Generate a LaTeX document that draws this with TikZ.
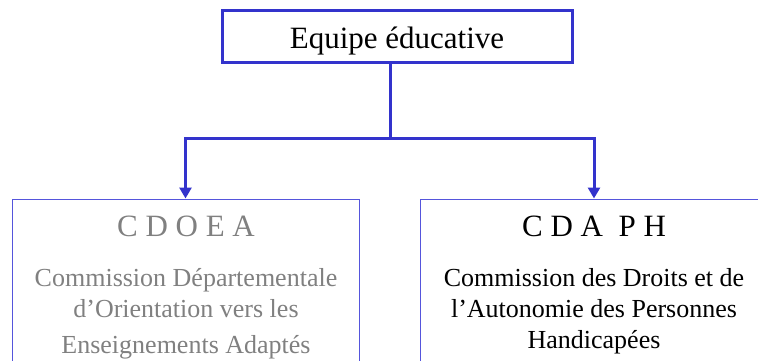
\documentclass[tikz,border=0pt]{standalone}
\usepackage{fontspec}
\setmainfont{Liberation Serif}
\usetikzlibrary{arrows.meta}
\definecolor{linkblue}{RGB}{51,51,204}
\definecolor{boxblue}{RGB}{85,85,220}
\definecolor{textgray}{RGB}{128,128,128}
\tikzset{
        link/.style={line width=3pt,color=linkblue},
        linkarrow/.style={link,-{Triangle[length=11pt,width=12pt]}},
        topbox/.style={draw=linkblue,line width=3pt,minimum width=350pt,minimum height=52pt,
                inner sep=0pt,text height=30pt,text depth=6pt,font=\fontsize{31}{37}\selectfont},
        orgbox/.style={draw=boxblue,line width=1pt,minimum height=181pt,inner sep=0pt},
        headtext/.style={anchor=base,font=\fontsize{31}{37}\selectfont},
        bodytext/.style={anchor=base,align=center,font=\fontsize{26}{31}\selectfont}
    }

\begin{document}
\begin{tikzpicture}[x=1pt,y=1pt]
\useasboundingbox (0,0) rectangle (758,360);
\clip (0,0) rectangle (758,360);
\node(EQ)[topbox] at (397,324){Equipe éducative};
\node(CDOEA)[orgbox,minimum width=347pt] at (185.5,70.5){};
\node(CDAPH)[orgbox,minimum width=348pt] at (594,70.5){};
% texts of the two commissions
\node(CDOEAhead)[headtext,textgray] at (186,124){C D O E A};
\node(CDOEAbody)[bodytext,textgray] at (186,7){Commission Départementale\\
d’Orientation vers les\\[5pt] Enseignements Adaptés};
\node(CDAPHhead)[headtext] at (594,124){C D A~~P H};
\node(CDAPHbody)[bodytext] at (594,12){Commission des Droits et de\\
l’Autonomie des Personnes\\ Handicapées};
% connectors
\coordinate (split) at (390,222);
\draw[link] (EQ.south -| split) -- (split);
\draw[linkarrow] (split) -| (CDOEA.north);
\draw[linkarrow] (split) -| (CDAPH.north);
\end{tikzpicture}
\end{document}
